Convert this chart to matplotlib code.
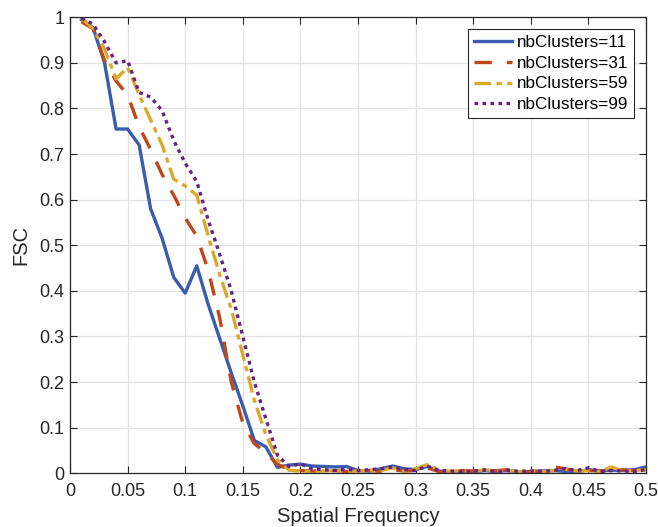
import matplotlib
matplotlib.use('Agg')
import matplotlib.pyplot as plt
import numpy as np

# spatial frequency samples 0.01 ... 0.50
freq = np.round(np.arange(1, 51) * 0.01, 2)

fsc_11 = [0.995, 0.977, 0.90, 0.755, 0.755, 0.72, 0.58, 0.515, 0.43, 0.395,
          0.455, 0.37, 0.295, 0.22, 0.148, 0.072, 0.058, 0.013, 0.018, 0.02,
          0.016, 0.015, 0.014, 0.015, 0.006, 0.005, 0.01, 0.016, 0.01, 0.008,
          0.015, 0.005, 0.002, 0.004, 0.003, 0.006, 0.004, 0.006, 0.003, 0.004,
          0.005, 0.006, 0.004, 0.003, 0.008, 0.005, 0.007, 0.006, 0.008, 0.014]
fsc_31 = [0.99, 0.975, 0.905, 0.86, 0.83, 0.76, 0.71, 0.655, 0.61, 0.56,
          0.52, 0.445, 0.34, 0.2, 0.11, 0.065, 0.045, 0.02, 0.008, 0.006,
          0.005, 0.004, 0.006, 0.004, 0.005, 0.006, 0.004, 0.008, 0.005, 0.006,
          0.012, 0.004, 0.003, 0.006, 0.005, 0.004, 0.006, 0.008, 0.004, 0.003,
          0.005, 0.014, 0.01, 0.004, 0.006, 0.005, 0.003, 0.008, 0.005, 0.005]
fsc_59 = [0.998, 0.975, 0.93, 0.865, 0.89, 0.83, 0.775, 0.72, 0.645, 0.63,
          0.61, 0.52, 0.435, 0.36, 0.26, 0.16, 0.085, 0.03, 0.007, 0.005,
          0.004, 0.005, 0.006, 0.004, 0.005, 0.007, 0.006, 0.012, 0.004, 0.01,
          0.019, 0.008, 0.004, 0.006, 0.004, 0.008, 0.005, 0.006, 0.004, 0.006,
          0.003, 0.006, 0.009, 0.005, 0.006, 0.004, 0.014, 0.005, 0.006, 0.008]
fsc_99 = [0.998, 0.985, 0.946, 0.90, 0.905, 0.835, 0.825, 0.795, 0.73, 0.68,
          0.64, 0.555, 0.48, 0.40, 0.30, 0.20, 0.12, 0.04, 0.015, 0.021,
          0.01, 0.008, 0.006, 0.009, 0.006, 0.008, 0.01, 0.014, 0.008, 0.006,
          0.016, 0.006, 0.005, 0.004, 0.005, 0.007, 0.004, 0.006, 0.004, 0.005,
          0.004, 0.006, 0.01, 0.006, 0.012, 0.004, 0.006, 0.005, 0.004, 0.008]

labels = ['nbClusters=11', 'nbClusters=31', 'nbClusters=59', 'nbClusters=99']
colors = ['#3a5cad', '#c0461c', '#dba82a', '#672384']

plt.rcParams['font.family'] = ['Liberation Sans', 'DejaVu Sans']

fig = plt.figure(figsize=(6.58, 5.27), dpi=100)
ax = fig.add_axes([0.1064, 0.1019, 0.8754, 0.8653])

ax.plot(freq, fsc_11, color=colors[0], lw=2.4, label=labels[0])
ax.plot(freq, fsc_31, color=colors[1], lw=2.4, dashes=(5.2, 4.5), label=labels[1])
ax.plot(freq, fsc_59, color=colors[2], lw=2.4, dashes=(5.0, 1.6, 1.6, 1.6), label=labels[2])
ax.plot(freq, fsc_99, color=colors[3], lw=2.4, dashes=(1.1, 1.3), label=labels[3])

ax.set_xlim(0, 0.5)
ax.set_ylim(0, 1)
ax.set_xticks(np.arange(0, 0.51, 0.05))
ax.set_xticklabels(['0', '0.05', '0.1', '0.15', '0.2', '0.25', '0.3', '0.35', '0.4', '0.45', '0.5'])
ax.set_yticks(np.arange(0, 1.01, 0.1))
ax.set_yticklabels(['0', '0.1', '0.2', '0.3', '0.4', '0.5', '0.6', '0.7', '0.8', '0.9', '1'])
ax.tick_params(direction='in', top=True, right=True, labelsize=13, colors='#262626', length=5, width=0.8)
ax.tick_params(axis='x', pad=7)
ax.tick_params(axis='y', pad=4)
ax.grid(True, color='#e3e3e3', lw=0.9)
ax.set_axisbelow(True)
for s in ax.spines.values():
    s.set_color('#262626')
    s.set_linewidth(0.9)

ax.set_xlabel('Spatial Frequency', fontsize=14.5, color='#262626', labelpad=5)
ax.set_ylabel('FSC', fontsize=14.5, color='#262626')
ax.yaxis.set_label_coords(-0.068, 0.5)

leg = ax.legend(loc='upper right', fontsize=12.3, handlelength=2.2, fancybox=False,
                framealpha=1, edgecolor='#262626', borderaxespad=0.7,
                labelspacing=0.33, handletextpad=0.3, borderpad=0.35)
leg.get_frame().set_linewidth(0.8)

fig.savefig('out.png', dpi=100)
